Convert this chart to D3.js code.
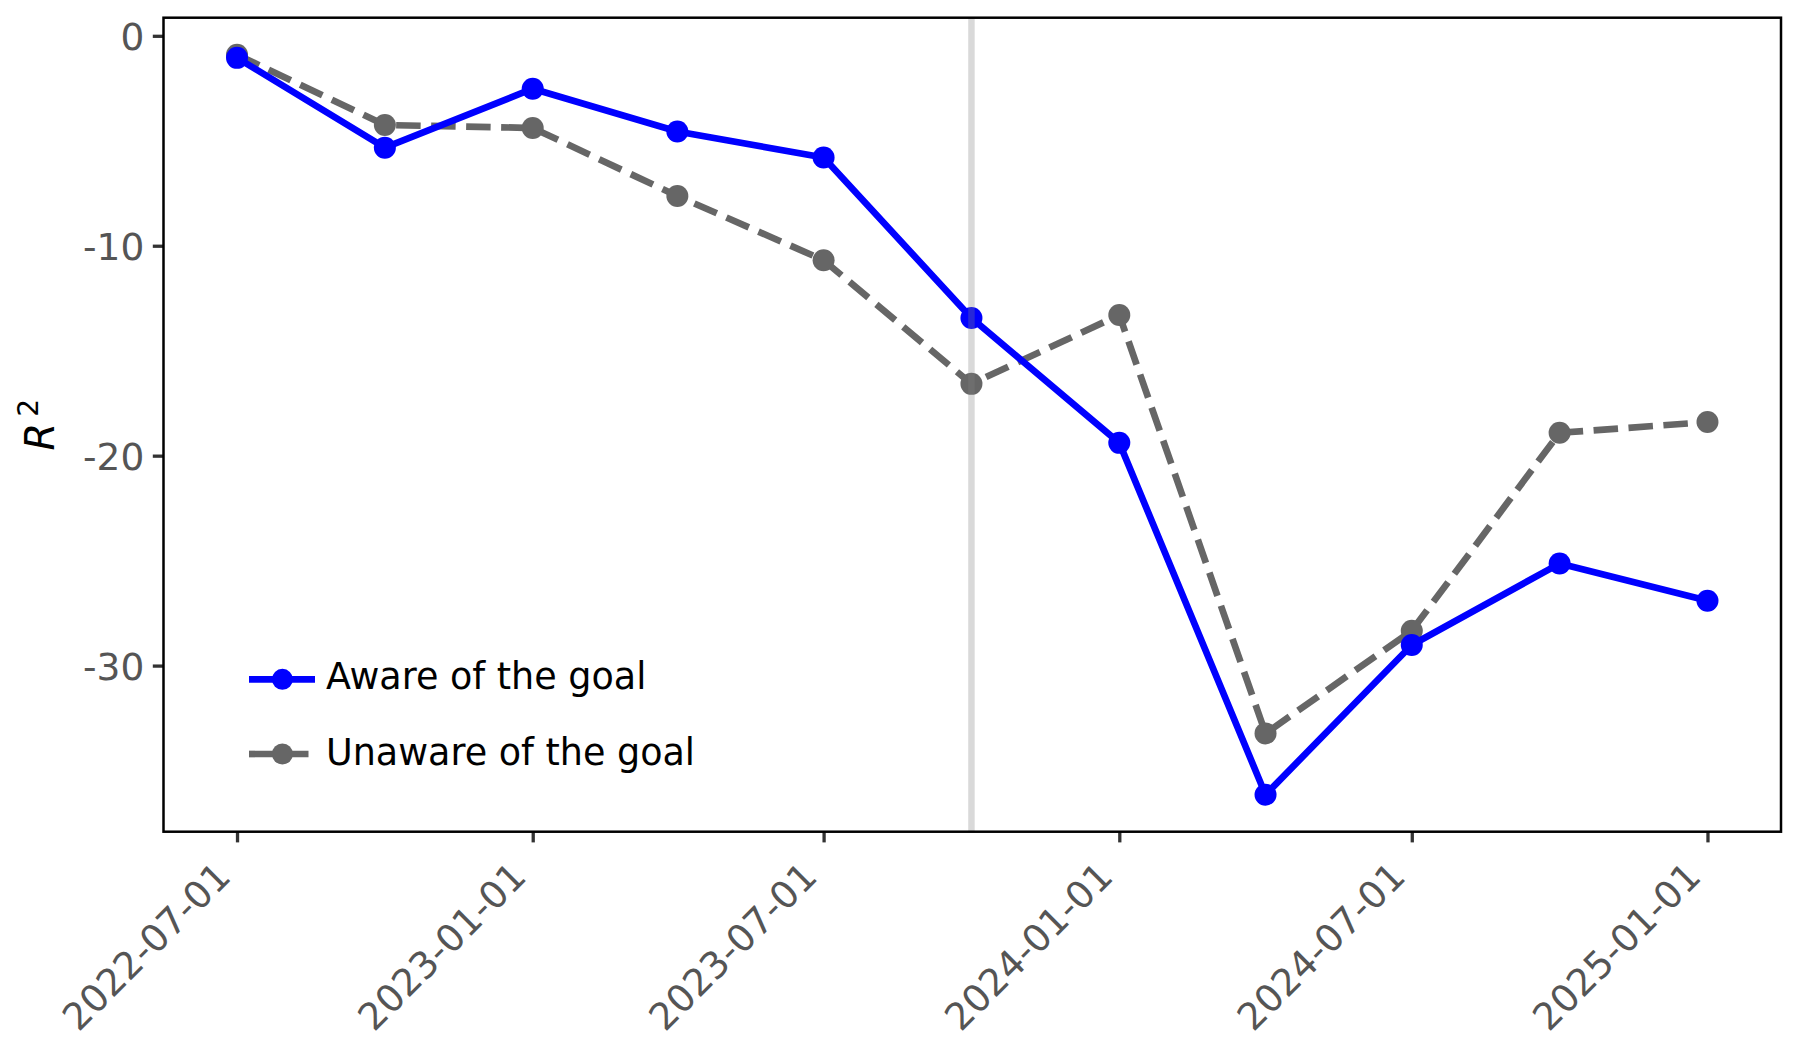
<!DOCTYPE html>
<html>
<head>
<meta charset="utf-8">
<script src="https://cdn.jsdelivr.net/npm/d3@7"></script>
<style>
  html, body { margin: 0; padding: 0; background: #fff; }
  svg { display: block; font-family: "DejaVu Sans", sans-serif; }
</style>
</head>
<body>
<svg id="chart" width="1800" height="1050"></svg>
<script>
// ---- data ----
const dates = ["2022-07-01","2022-10-01","2023-01-01","2023-04-01","2023-07-01","2023-10-01",
               "2024-01-01","2024-04-01","2024-07-01","2024-10-01","2025-01-01"];
const aware   = [-1.05, -5.33, -2.52, -4.56, -5.80, -13.44, -19.39, -36.15, -29.02, -25.14, -26.91];
const unaware = [-0.90, -4.25, -4.39, -7.63, -10.69, -16.58, -13.30, -33.23, -28.34, -18.91, -18.40];
const xTickLabels = ["2022-07-01","2023-01-01","2023-07-01","2024-01-01","2024-07-01","2025-01-01"];
const yTickValues = [0, -10, -20, -30];
const markerDate = "2023-10-01";
const seriesNames = ["Aware of the goal", "Unaware of the goal"];

(function () {
// ---- layout ----
const svg = d3.select("#chart");
const pLeft = 163.5, pTop = 17.7, pRight = 1781, pBottom = 831.7;
const parse = d3.utcParse("%Y-%m-%d");
const xDates = dates.map(parse);

const t0 = xDates[0].getTime(), t1 = xDates[xDates.length - 1].getTime();
const padT = (t1 - t0) * 0.05;
const x = d3.scaleUtc().domain([new Date(t0 - padT), new Date(t1 + padT)]).range([pLeft, pRight]);

const allY = aware.concat(unaware);
const yMin = d3.min(allY), yMax = d3.max(allY);
const padY = (yMax - yMin) * 0.05;
const y = d3.scaleLinear().domain([yMin - padY, yMax + padY]).range([pBottom, pTop]);

const lw = 6.7;
const dash = "24.5,10.5";
const blue = "#0000ff", gray = "#666666";
const r = 11;

// lines
const line = d3.line().x((d, i) => x(xDates[i])).y(d => y(d));

const series = [
  { vals: unaware, color: gray, dash: dash, cap: "butt" },
  { vals: aware, color: blue, dash: null, cap: "square" }
];

series.forEach(s => {
  svg.append("path")
    .datum(s.vals)
    .attr("d", line)
    .attr("fill", "none")
    .attr("stroke", s.color)
    .attr("stroke-width", lw)
    .attr("stroke-linejoin", "round")
    .attr("stroke-linecap", s.cap)
    .attr("stroke-dasharray", s.dash);
  svg.append("g").selectAll("circle")
    .data(s.vals)
    .join("circle")
    .attr("cx", (d, i) => x(xDates[i]))
    .attr("cy", d => y(d))
    .attr("r", r)
    .attr("fill", s.color);
});

// vertical reference line (semi-transparent, on top)
svg.append("line")
  .attr("x1", x(parse(markerDate))).attr("x2", x(parse(markerDate)))
  .attr("y1", pTop).attr("y2", pBottom)
  .attr("stroke", "#808080")
  .attr("stroke-opacity", 0.3)
  .attr("stroke-width", 6.5);

// axes
const tickColor = "#333333", labelColor = "#555555";
const yAxis = d3.axisLeft(y).tickValues(yTickValues).tickSize(10.7).tickPadding(8.5)
  .tickFormat(d => String(d));
const gy = svg.append("g").attr("transform", `translate(${pLeft},0)`).call(yAxis);
gy.select(".domain").remove();
gy.selectAll(".tick line").attr("stroke", tickColor).attr("stroke-width", 3.3);
gy.selectAll(".tick text")
  .attr("fill", labelColor)
  .style("font-size", "37.5px")
  .style("font-family", "DejaVu Sans")
  .attr("dy", "0.36em");

const xAxis = d3.axisBottom(x).tickValues(xTickLabels.map(parse)).tickSize(10.7)
  .tickFormat(d3.utcFormat("%Y-%m-%d"));
const gx = svg.append("g").attr("transform", `translate(0,${pBottom})`).call(xAxis);
gx.select(".domain").remove();
gx.selectAll(".tick line").attr("stroke", tickColor).attr("stroke-width", 3.3);
gx.selectAll(".tick text")
  .attr("fill", labelColor)
  .style("font-size", "37.5px")
  .style("font-family", "DejaVu Sans")
  .attr("text-anchor", "end")
  .attr("x", null).attr("y", null).attr("dy", null)
  .attr("transform", "translate(-5,47) rotate(-45)");

// frame
svg.append("rect")
  .attr("x", pLeft).attr("y", pTop)
  .attr("width", pRight - pLeft).attr("height", pBottom - pTop)
  .attr("fill", "none").attr("stroke", "#000").attr("stroke-width", 2.5);

// y label R^2
const yl = svg.append("text")
  .attr("transform", `translate(54,${(pTop + pBottom) / 2}) rotate(-90)`)
  .attr("text-anchor", "middle")
  .style("font-size", "40px")
  .attr("fill", "#000");
yl.append("tspan").style("font-style", "italic").text("R");
yl.append("tspan").attr("dx", 6).attr("dy", -16).style("font-size", "28px").text("2");

// legend
const legend = svg.append("g");
const legRows = [
  { name: seriesNames[0], color: blue, dash: null, ly: 679.3, ty: 689 },
  { name: seriesNames[1], color: gray, dash: dash, ly: 754, ty: 765 }
];
legRows.forEach(row => {
  legend.append("line")
    .attr("x1", 249).attr("x2", 315)
    .attr("y1", row.ly).attr("y2", row.ly)
    .attr("stroke", row.color).attr("stroke-width", lw)
    .attr("stroke-dasharray", row.dash);
  legend.append("circle").attr("cx", 282.4).attr("cy", row.ly).attr("r", 10.5).attr("fill", row.color);
  legend.append("text").attr("x", 326).attr("y", row.ty)
    .style("font-size", "36.5px").attr("fill", "#000").text(row.name);
});
})();
</script>
</body>
</html>
